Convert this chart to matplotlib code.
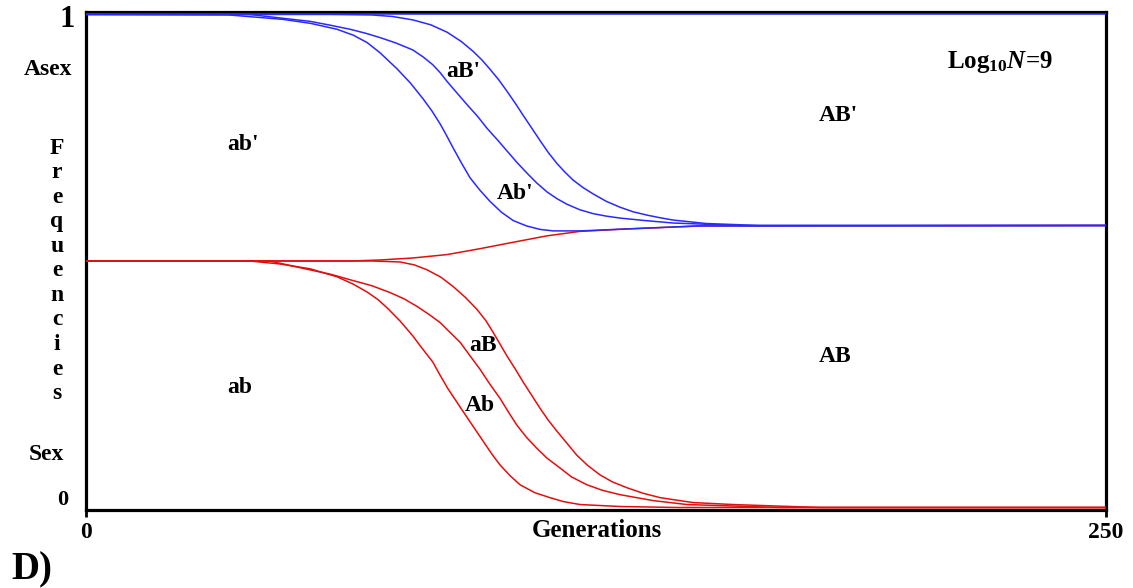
import matplotlib
matplotlib.use("Agg")
import matplotlib.pyplot as plt

plt.rcParams["font.family"] = ["Liberation Serif", "DejaVu Serif"]
plt.rcParams["font.weight"] = "bold"
plt.rcParams["mathtext.fontset"] = "custom"
plt.rcParams["mathtext.rm"] = "Liberation Serif:bold"
plt.rcParams["mathtext.it"] = "Liberation Serif:italic:bold"

# Cumulative genotype frequencies (stacked from the bottom) over generations.
# Sexual population: ab | Ab | aB | AB ; asexual population: ab' | Ab' | aB' | AB'

# top of ab
gen_ab = [0, 40, 47.5, 55, 61.5, 65.5, 68.9, 71.5, 73.8, 77, 80.1, 81.9, 85, 86.8, 88.7,
          92.4, 95, 97.3, 99.5, 101.5, 104, 106.4, 110, 113.7, 117, 121.1, 131, 145, 250]
cum_ab = [0.5, 0.5, 0.494, 0.484, 0.468, 0.453, 0.437, 0.422, 0.405, 0.378, 0.348, 0.328,
          0.295, 0.268, 0.241, 0.195, 0.163, 0.135, 0.108, 0.086, 0.064, 0.046, 0.030,
          0.020, 0.012, 0.006, 0.002, 0.0, 0.0]

# top of Ab
gen_Ab = [0, 45, 54.9, 60, 64.7, 70, 74.5, 78, 81.1, 84, 86.8, 89, 91.7, 94, 96.6, 99,
          101.5, 103.5, 105.6, 108, 110.5, 113, 116.2, 119, 122.8, 126.5, 130.9, 139,
          147.3, 170, 250]
cum_Ab = [0.5, 0.5, 0.482, 0.473, 0.462, 0.450, 0.436, 0.423, 0.408, 0.392, 0.375, 0.357,
          0.335, 0.309, 0.280, 0.250, 0.221, 0.194, 0.167, 0.142, 0.120, 0.100, 0.080,
          0.062, 0.046, 0.035, 0.026, 0.014, 0.006, 0.0, 0.0]

# top of aB
gen_aB = [0, 60, 70, 77, 80.5, 83.6, 87, 90, 93, 95.8, 98, 99.8, 101.5, 103.2, 105.2,
          107.1, 109.2, 111.3, 113.3, 115.4, 118, 120.3, 123, 126, 129, 132.6, 136.5,
          140.7, 148.8, 158.6, 180, 250]
cum_aB = [0.5, 0.5, 0.5, 0.498, 0.492, 0.482, 0.467, 0.448, 0.426, 0.402, 0.379, 0.355,
          0.331, 0.307, 0.281, 0.255, 0.228, 0.201, 0.177, 0.155, 0.129, 0.106, 0.085,
          0.066, 0.052, 0.040, 0.029, 0.020, 0.010, 0.006, 0.0, 0.0]

# top of AB (total sexual fraction)
gen_sex = [0, 65, 72, 80, 88.5, 96.6, 104.7, 113, 121, 132.6, 150, 250]
cum_sex = [0.5, 0.5, 0.502, 0.506, 0.513, 0.525, 0.538, 0.551, 0.560, 0.565, 0.571, 0.572]

# top of ab'
gen_ab2 = [0, 35, 48.3, 55, 61.5, 65.5, 68.9, 72.1, 76.2, 79.5, 82.6, 84.8, 86.8, 88.4,
           90, 92, 94.1, 96.5, 99, 101.8, 104.7, 108, 111.3, 114.5, 121, 132.6, 150, 250]
cum_ab2 = [1.0, 0.999, 0.990, 0.982, 0.970, 0.958, 0.943, 0.922, 0.890, 0.861, 0.829,
           0.804, 0.778, 0.754, 0.729, 0.699, 0.669, 0.644, 0.621, 0.599, 0.582, 0.571,
           0.564, 0.561, 0.561, 0.565, 0.571, 0.572]

# top of Ab'
gen_Ab2 = [0, 40, 54.9, 60, 64.7, 68.5, 72.1, 76, 80.1, 82.6, 85, 86.8, 88.5, 91, 93.4,
           96, 98.3, 100.8, 103.2, 105.6, 108.1, 110.5, 113, 115.5, 117.9, 121, 124.3,
           127.5, 130.9, 137, 143.9, 160, 250]
cum_Ab2 = [1.0, 1.0, 0.986, 0.978, 0.970, 0.962, 0.953, 0.942, 0.928, 0.914, 0.898, 0.882,
           0.864, 0.840, 0.817, 0.793, 0.769, 0.746, 0.723, 0.700, 0.678, 0.658, 0.640,
           0.626, 0.615, 0.604, 0.596, 0.591, 0.587, 0.582, 0.577, 0.572, 0.572]

# top of aB'
gen_aB2 = [0, 60, 70, 75, 80.1, 84.5, 88.5, 92, 94.9, 97, 99, 101.2, 103.2, 105.2, 107.1,
           109.2, 111.3, 113.3, 115.4, 117.4, 119.4, 121.8, 124.3, 127.5, 130.9, 134,
           137.5, 140.5, 143.9, 152, 165, 250]
cum_aB2 = [1.0, 1.0, 0.999, 0.996, 0.989, 0.979, 0.964, 0.945, 0.925, 0.908, 0.889, 0.867,
           0.844, 0.820, 0.796, 0.770, 0.744, 0.720, 0.698, 0.680, 0.664, 0.649, 0.636,
           0.621, 0.609, 0.600, 0.593, 0.588, 0.583, 0.576, 0.572, 0.572]

# top of AB' (whole population)
gen_all = [0, 250]
cum_all = [1.0, 1.0]

sex_curves = [(gen_ab, cum_ab), (gen_Ab, cum_Ab), (gen_aB, cum_aB), (gen_sex, cum_sex)]
asex_curves = [(gen_ab2, cum_ab2), (gen_Ab2, cum_Ab2), (gen_aB2, cum_aB2), (gen_all, cum_all)]

region_labels = [
    ("ab'", 38.5, 0.737), ("aB'", 92.4, 0.884), ("Ab'", 105.1, 0.637), ("AB'", 184.3, 0.795),
    ("ab", 37.7, 0.243), ("aB", 97.3, 0.329), ("Ab", 96.6, 0.207), ("AB", 183.6, 0.307),
]

RED = "#e01010"
BLUE = "#2a2aff"

fig = plt.figure(figsize=(11.33, 5.88), dpi=100)
ax = fig.add_axes([0.0759, 0.1327, 0.9003, 0.8469])

for g, c in sex_curves:
    ax.plot(g, c, color=RED, lw=1.1, zorder=2, solid_joinstyle="round")
for g, c in asex_curves:
    ax.plot(g, c, color=BLUE, lw=1.1, zorder=3, solid_joinstyle="round")

ax.set_xlim(0, 250)
ax.set_ylim(-0.005, 1.005)

for s in ax.spines.values():
    s.set_linewidth(2.3)
    s.set_color("black")
    s.set_zorder(1)

ax.set_xticks([0, 250])
ax.set_xticklabels(["0", "250"], fontsize=17, fontweight="bold")
ax.tick_params(axis="x", direction="out", length=5, width=2, pad=4)
ax.set_yticks([])

fs = 17
for txt, gx, gy in region_labels:
    ax.text(gx, gy, txt, fontsize=fs, ha="center", va="center", fontweight="bold")

ax.text(224, 0.904, r"Log$_{10}\mathit{N}$=9", fontsize=18, ha="center", va="center")

# axis annotations outside the plotting area
ax.text(-4.7, 0.99, "1", fontsize=22, ha="center", va="center", clip_on=False)
ax.text(-5.6, 0.016, "0", fontsize=16, ha="center", va="center", clip_on=False)
ax.text(-9.3, 0.888, "Asex", fontsize=fs, ha="center", va="center", clip_on=False)
ax.text(-9.8, 0.108, "Sex", fontsize=fs, ha="center", va="center", clip_on=False)

word = "Frequencies"
top_v, step_v = 0.729, 0.0498
for i, ch in enumerate(word):
    ax.text(-7.1, top_v - i * step_v, ch, fontsize=fs, ha="center", va="center",
            clip_on=False)

ax.text(125.2, -0.046, "Generations", fontsize=18, ha="center", va="center",
        clip_on=False)

fig.text(0.028, 0.031, "D)", fontsize=28, ha="center", va="center", fontweight="bold")

fig.savefig("out.png", dpi=100, facecolor="white")
